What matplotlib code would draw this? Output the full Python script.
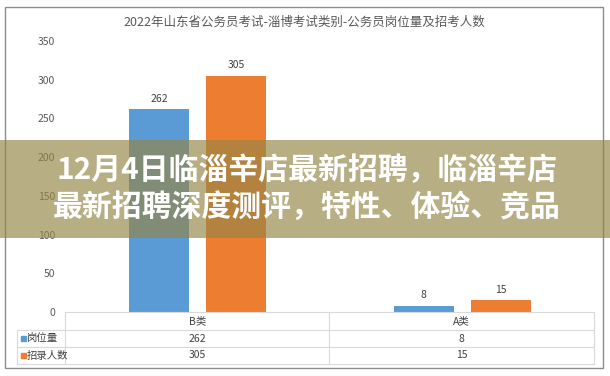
import matplotlib
matplotlib.use("Agg")
import matplotlib.pyplot as plt
import numpy as np
from matplotlib.patches import Rectangle
from matplotlib.lines import Line2D
from matplotlib.transforms import blended_transform_factory

plt.rcParams['font.family'] = ['Noto Sans CJK SC', 'DejaVu Sans']

# data
categories = ["B类", "A类"]
series_names = ["岗位量", "招录人数"]
posts = [262, 8]
hires = [305, 15]
title = "2022年山东省公务员考试-淄博考试类别-公务员岗位量及招考人数"
banner_lines = ["12月4日临淄辛店最新招聘，临淄辛店",
                "最新招聘深度测评，特性、体验、竞品"]
yticks = [0, 50, 100, 150, 200, 250, 300, 350]

blue = "#5B9BD5"
orange = "#ED7D31"
txt = "#595959"
grid = "#D9D9D9"

W, H = 610, 376
fig = plt.figure(figsize=(6.1, 3.76), dpi=100)


def fx(x):
    return x / W


def fy(y):
    return 1 - y / H


ax = fig.add_axes([fx(65), fy(312), fx(594) - fx(65), fy(41) - fy(312)])
x = np.arange(len(categories))
b1 = ax.bar(x - 0.144, posts, 0.227, color=blue)
b2 = ax.bar(x + 0.148, hires, 0.227, color=orange)
ax.bar_label(b1, padding=4, fontsize=7.5, color="#404040")
ax.bar_label(b2, padding=4, fontsize=7.5, color="#404040")
ax.set_xlim(-0.5, 1.5)
ax.set_ylim(0, 350)
ax.set_yticks(yticks)
ax.set_xticks([])
for s in ax.spines.values():
    s.set_visible(False)
ax.tick_params(axis="y", length=0, pad=7, labelsize=7.5, labelcolor=txt)

fig.text(fx(304), fy(22), title, ha="center", va="center", fontsize=9, color=txt)

# data table under the axis
def hline(y, x0, x1):
    fig.add_artist(Line2D([fx(x0), fx(x1)], [fy(y), fy(y)], color=grid, lw=0.8))


def vline(xp, y0, y1):
    fig.add_artist(Line2D([fx(xp), fx(xp)], [fy(y0), fy(y1)], color=grid, lw=0.8))


hline(312, 65, 594)
for yy in (330, 347, 364):
    hline(yy, 17, 594)
vline(17, 330, 364)
for xx in (65, 329, 594):
    vline(xx, 312, 364)

tr = blended_transform_factory(ax.transData, fig.transFigure)
for i, c in enumerate(categories):
    fig.text(i, fy(321), c, transform=tr, ha="center", va="center", fontsize=7.5, color="#404040")
    fig.text(i, fy(338.5), str(posts[i]), transform=tr, ha="center", va="center", fontsize=7.5, color="#404040")
    fig.text(i, fy(355.5), str(hires[i]), transform=tr, ha="center", va="center", fontsize=7.5, color="#404040")

for name, col, yc in zip(series_names, [blue, orange], [338.5, 355.5]):
    fig.add_artist(Rectangle((fx(21), fy(yc + 2.5)), fx(4.5), fy(0) - fy(5), color=col,
                             transform=fig.transFigure))
    fig.text(fx(27), fy(yc), name, ha="left", va="center", fontsize=7.5, color="#404040")

# outer frame
fig.add_artist(Rectangle((fx(5), fy(368)), fx(603) - fx(5), fy(7) - fy(368), fill=False,
                         edgecolor="#8c8c8c", lw=1, transform=fig.transFigure))

# banner overlay
fig.add_artist(Rectangle((0, fy(238)), 1, fy(140) - fy(238), color=(0.58, 0.52, 0.27),
                         alpha=0.66, lw=0, transform=fig.transFigure, zorder=10))
for line, yc in zip(banner_lines, [170, 207]):
    fig.text(fx(307), fy(yc), line, ha="center", va="center", fontsize=21.5,
             fontweight="bold", color="white", zorder=11)

fig.savefig("out.png", dpi=100)
